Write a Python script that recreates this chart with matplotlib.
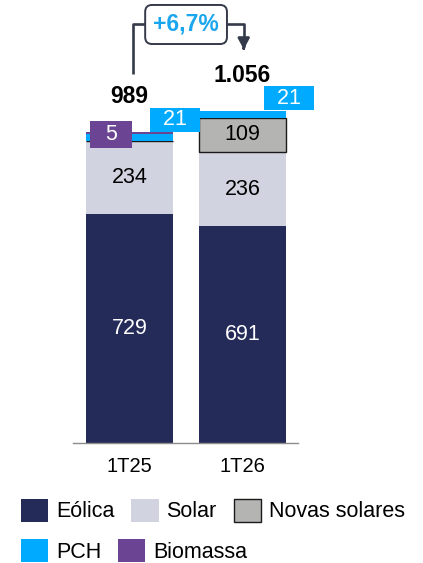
import matplotlib
matplotlib.use("Agg")
import matplotlib.pyplot as plt
from matplotlib.patches import Patch
import numpy as np

plt.rcParams["font.family"] = ["Liberation Sans", "DejaVu Sans"]

# ── dados ────────────────────────────────────────────────────────────────────
periodos = ["1T25", "1T26"]
eolica = [729, 691]
solar = [234, 236]
novas_solares = [0, 109]
pch = [21, 21]
biomassa = [5, 0]
totais = [989, 1056]
variacao = "+6,7%"

C_EOL = "#252B59"
C_SOL = "#D1D3E0"
C_NOV = "#B4B5B3"
C_PCH = "#00AAFF"
C_BIO = "#6B4594"
C_LINE = "#343A4A"

fig = plt.figure(figsize=(4.23, 5.63), dpi=100)
ax = fig.add_axes([73 / 423, (563 - 443) / 563, 225 / 423, 443 / 563])

x = np.arange(len(periodos))
w = 0.77
bottom = np.zeros(len(x))
series = [
    (eolica, C_EOL, "none", 0),
    (solar, C_SOL, "none", 0),
    (novas_solares, C_NOV, "#1A1A1A", 1.0),
    (pch, C_PCH, "none", 0),
    (biomassa, C_BIO, "none", 0),
]
for vals, col, ec, lw in series:
    vals = np.array(vals, dtype=float)
    ax.bar(x, vals, w, bottom=bottom, color=col, edgecolor=ec, linewidth=lw, zorder=2)
    bottom = bottom + vals

# rótulos internos
for i in x:
    ax.text(i, eolica[i] / 2, f"{eolica[i]}", ha="center", va="center",
            color="white", fontsize=15.5, zorder=4)
    ax.text(i, eolica[i] + solar[i] / 2, f"{solar[i]}", ha="center", va="center",
            color="black", fontsize=15.5, zorder=4)
    if novas_solares[i]:
        ax.text(i, eolica[i] + solar[i] + novas_solares[i] / 2, f"{novas_solares[i]}",
                ha="center", va="center", color="black", fontsize=15.5, zorder=4)

# rótulos em caixa (PCH / Biomassa)
box_kw = dict(ha="center", va="center", color="white", fontsize=15.5, zorder=5)
ax.text(-0.16, totais[0] - 5, f"  {biomassa[0]}  ",
        bbox=dict(boxstyle="square,pad=0.14", fc=C_BIO, ec="none"), **box_kw)
ax.text(0.40, totais[0] + 40, f"  {pch[0]}  ",
        bbox=dict(boxstyle="square,pad=0.06", fc=C_PCH, ec="none"), **box_kw)
ax.text(1.41, totais[1] + 42, f"  {pch[1]}  ",
        bbox=dict(boxstyle="square,pad=0.06", fc=C_PCH, ec="none"), **box_kw)

# totais
for i in x:
    ax.text(i, totais[i] + 115, f"{totais[i]:,}".replace(",", "."), ha="center",
            va="center", fontsize=16.5, fontweight="bold", color="black", zorder=4)

# colchete de variação
y_top = 1333
ax.plot([0.03, 0.03, 1.01, 1.01], [totais[0] + 185, y_top, y_top, 1262],
        color=C_LINE, lw=1.9, clip_on=False, zorder=3, solid_capstyle="butt")
ax.annotate("", xy=(1.01, totais[1] + 189), xytext=(1.01, 1266),
            arrowprops=dict(arrowstyle="-|>,head_width=0.35,head_length=0.65",
                            color=C_LINE, lw=1.9), annotation_clip=False, zorder=3)
ax.text(0.5, y_top, variacao, ha="center", va="center", fontsize=16.5,
        fontweight="bold", color="#1AA6EE", zorder=6,
        bbox=dict(boxstyle="round,pad=0.35,rounding_size=0.3", fc="white",
                  ec=C_LINE, lw=1.4))

ax.set_xlim(-0.5, 1.49)
ax.set_ylim(0, 1411)
ax.set_xticks(x)
ax.set_xticklabels(periodos, fontsize=14.5)
ax.tick_params(axis="x", length=0, pad=10)
ax.set_yticks([])
for s in ["top", "right", "left"]:
    ax.spines[s].set_visible(False)
ax.spines["bottom"].set_color("#8C8C8C")
ax.spines["bottom"].set_linewidth(1.0)
ax.patch.set_alpha(0)

# legenda
leg_kw = dict(frameon=False, fontsize=15.5, handlelength=1.26, handleheight=1.26,
              handletextpad=0.36, columnspacing=0.8, borderpad=0, borderaxespad=0,
              loc="center left")
h1 = [Patch(fc=C_EOL, ec="none", label="Eólica"),
      Patch(fc=C_SOL, ec="none", label="Solar"),
      Patch(fc=C_NOV, ec="#1A1A1A", lw=1.0, label="Novas solares")]
h2 = [Patch(fc=C_PCH, ec="none", label="PCH"),
      Patch(fc=C_BIO, ec="none", label="Biomassa")]
fig.legend(handles=h1, ncol=3, bbox_to_anchor=(21 / 423, (563 - 510.5) / 563), **leg_kw)
fig.legend(handles=h2, ncol=2, bbox_to_anchor=(21 / 423, (563 - 551) / 563), **leg_kw)

fig.savefig("out.png", dpi=100)
